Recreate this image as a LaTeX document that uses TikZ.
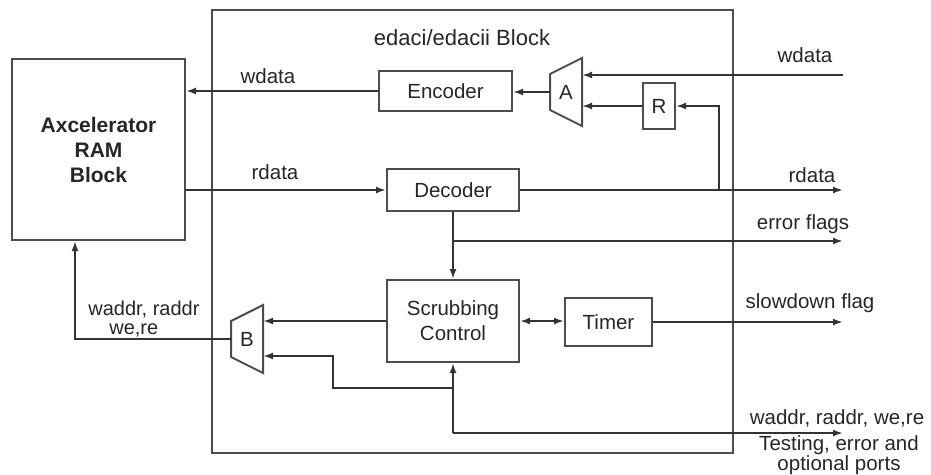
\documentclass[tikz,border=0pt]{standalone}
\usepackage{fontspec}
\setmainfont{Liberation Sans}
\usetikzlibrary{arrows.meta}

\begin{document}
\begin{tikzpicture}[x=1pt, y=-1pt, line width=2pt,
  txt/.style={font=\fontsize{20.5}{25}\selectfont, text=black!85, align=center},
  blk/.style={txt, draw=black!70, line width=2pt, inner sep=0pt},
  mux/.style={txt, minimum width=30, minimum height=66, inner sep=0pt},
  sig/.style={draw=black!80, -{Latex[length=10pt,width=7pt]}},
  dsig/.style={draw=black!80, {Latex[length=10pt,width=7pt]}-{Latex[length=10pt,width=7pt]}}]
  \useasboundingbox (0,0) rectangle (931,474);
  \node[blk, minimum width=521, minimum height=443] (edac) at (472.5,231.5) {};
  \node[txt] (title) at (462,38) {\fontsize{22}{25}\selectfont edaci/edacii Block};
  \node[blk, minimum width=173, minimum height=181, font=\fontsize{21}{25}\selectfont\bfseries] (ram) at (98.5,149.5) {Axcelerator\\RAM\\Block};
  \node[blk, minimum width=133, minimum height=40] (enc) at (445.5,91) {Encoder};
  \node[blk, minimum width=132, minimum height=42] (dec) at (453,190) {Decoder};
  \node[blk, minimum width=132, minimum height=82] (scrub) at (453,321) {Scrubbing\\Control};
  \node[blk, minimum width=87, minimum height=48] (timer) at (608.5,322) {Timer};
  \node[blk, minimum width=32, minimum height=46] (R) at (659,106) {R};
  \node[mux] (muxA) at (566,92) {A};
  \node[mux] (muxB) at (247,339) {B};
  \draw[draw=black!70] (muxA.north east) -- (muxA.south east) -- ([yshift=16pt]muxA.south west) -- ([yshift=-16pt]muxA.north west) -- cycle;
  \draw[draw=black!70] (muxB.north east) -- (muxB.south east) -- ([yshift=16pt]muxB.south west) -- ([yshift=-16pt]muxB.north west) -- cycle;
  \coordinate (wIn) at (843,75);
  \coordinate (rOut) at (843,190);
  \coordinate (tap) at (719,190);
  \coordinate (eOut) at (843,241);
  \coordinate (sOut) at (843,322);
  \coordinate (pOut) at (843,433);
  \coordinate (bJoin) at (333,388);
  \draw[sig] (enc.west) -- (enc.west -| ram.east);
  \draw[sig] (muxA.west) -- (muxA.west -| enc.east);
  \draw[sig] (wIn) -- (wIn -| muxA.east);
  \draw[sig] (R.west) -- (R.west -| muxA.east);
  \draw[sig] (ram.east |- dec.west) -- (dec.west);
  \draw[sig] (dec.east) -- (dec.east -| rOut);
  \draw[sig] (tap) |- (R.east);
  \draw[sig] (dec.south) -- (scrub.north);
  \draw[sig] (dec.south |- eOut) -- (eOut);
  \draw[dsig] (scrub.east) -- (scrub.east -| timer.west);
  \draw[sig] (timer.east) -- (timer.east -| sOut);
  \draw[sig] (scrub.west) -- (scrub.west -| muxB.east);
  \draw[sig] (scrub.south |- pOut) -- (pOut);
  \draw[sig] (scrub.south |- pOut) -- (scrub.south);
  \draw[sig] (bJoin -| scrub.south) -- (bJoin) |- ([yshift=-17pt]muxB.east);
  \draw[sig] (muxB.west) -| ([xshift=-23.5pt]ram.south);
  \node[txt] (lwdata) at (268,76) {wdata};
  \node[txt] (lrdata) at (275,172) {rdata};
  \node[txt] (lwin) at (805,55) {wdata};
  \node[txt] (lrout) at (812,175) {rdata};
  \node[txt] (lerr) at (803,224) {error flags};
  \node[txt] (lslow) at (810,303) {slowdown flag};
  \node[txt, align=left, anchor=west, font=\fontsize{20}{19}\selectfont] (laddr) at (84,319) {waddr, raddr\\\hspace*{21pt}we,re};
  \node[txt] (lports) at (837,418) {waddr, raddr, we,re};
  \node[txt, font=\fontsize{20.5}{16}\selectfont] (ltest) at (839,455) {Testing, error and\\optional ports};
\end{tikzpicture}
\end{document}
